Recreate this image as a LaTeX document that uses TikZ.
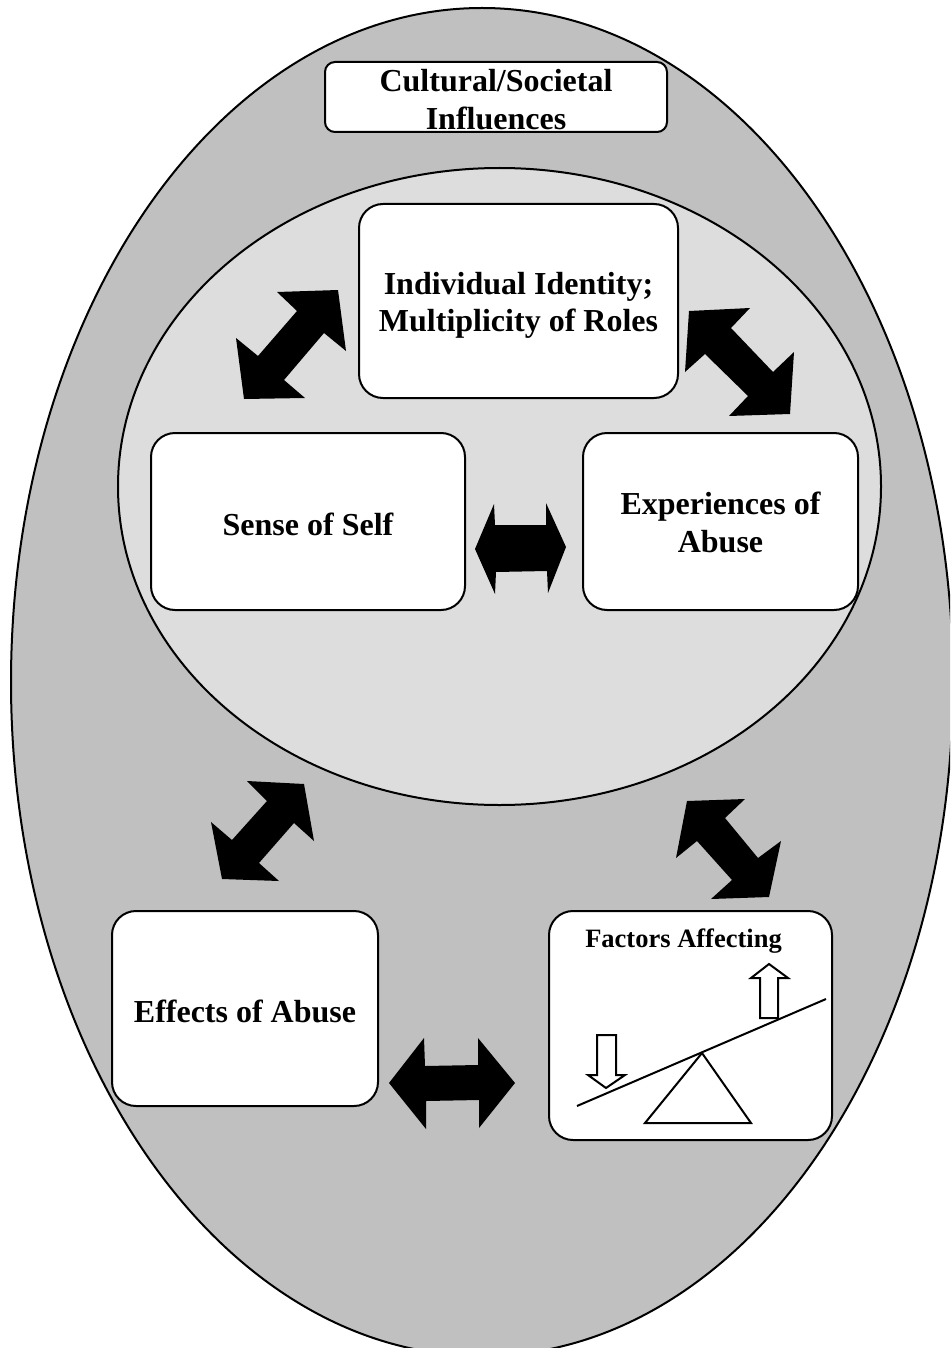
\documentclass[tikz,border=0pt]{standalone}
\usepackage{fontspec}
\setmainfont{Liberation Serif}
\usepackage{tikz}

\definecolor{outergray}{HTML}{C0C0C0}
\definecolor{innergray}{HTML}{DDDDDD}

\newcommand{\boxlabel}[2]{\raisebox{#1}[0pt][0pt]{\begin{tabular}{@{}c@{}}#2\end{tabular}}}

\tikzset{
  boxnode/.style={draw=black, fill=white, line width=2pt, rounded corners=24pt, inner sep=0pt, font=\bfseries\fontsize{32}{37.5}\selectfont},
  blockarrow/.style={fill=black},
  hollowarrow/.style={draw=black, fill=white, line width=2pt},
}

\begin{document}
\begin{tikzpicture}[x=1pt, y=-1pt]
            \clip (0,0) rectangle (950,1348);
            \draw[fill=outergray, line width=2pt] (482,682) ellipse [x radius=471, y radius=674];
            \draw[fill=innergray, line width=2pt] (499.5,486.5) ellipse [x radius=381.5, y radius=318.5];
            % boxes
            \node[boxnode, rounded corners=10pt, minimum width=342pt, minimum height=70pt] (influences) at (496,97) {\boxlabel{-12pt}{Cultural/Societal\\Influences}};
            \node[boxnode, minimum width=319pt, minimum height=194pt] (identity) at (518.5,301) {\boxlabel{-10.5pt}{Individual Identity;\\Multiplicity of Roles}};
            \node[boxnode, minimum width=314pt, minimum height=177pt] (self) at (308,521.5) {\boxlabel{-12.5pt}{Sense of Self}};
            \node[boxnode, minimum width=275pt, minimum height=177pt] (experiences) at (720.5,521.5) {\boxlabel{-10.5pt}{Experiences of\\Abuse}};
            \node[boxnode, minimum width=266pt, minimum height=195pt] (effects) at (245,1008.5) {\boxlabel{-12.5pt}{Effects of Abuse}};
            \node[boxnode, minimum width=283pt, minimum height=229pt] (factors) at (690.5,1025.5) {};
            \node[font=\bfseries\fontsize{26.5}{30}\selectfont, inner sep=0pt] (factorstext) at (683.5,941) {Factors Affecting};
            % block arrows
            \fill[blockarrow] (277,292) -- (338,290) -- (346,351) -- (324,333) -- (284,380) -- (305,398) -- (244,399) -- (236,338) -- (258,356) -- (297,311) -- cycle;
            \fill[blockarrow] (689,311) -- (750,308) -- (731,328) -- (773,372) -- (794,352) -- (790,414) -- (729,416) -- (748,396) -- (705,354) -- (685,372) -- cycle;
            \fill[blockarrow] (475,549) -- (494,504) -- (495,525) -- (546,525) -- (546,503) -- (566,547) -- (548,593) -- (547,571) -- (496,572) -- (495,594) -- cycle;
            \fill[blockarrow] (247,781) -- (304,784) -- (314,841) -- (294,823) -- (259,863) -- (279,881) -- (222,879) -- (211,822) -- (232,840) -- (267,801) -- cycle;
            \fill[blockarrow] (687,801) -- (745,799) -- (725,818) -- (758,858) -- (781,841) -- (769,897) -- (711,899) -- (732,880) -- (697,841) -- (676,858) -- cycle;
            \fill[blockarrow] (389,1083) -- (424,1038) -- (425,1066) -- (478,1065) -- (478,1038) -- (515,1083) -- (479,1128) -- (479,1100) -- (426,1101) -- (426,1129) -- cycle;
            % seesaw
            \draw[hollowarrow] (606,1088) -- (625,1075) -- (616,1075) -- (616,1035) -- (597,1035) -- (597,1075) -- (588,1075) -- cycle;
            \draw[hollowarrow] (769,964) -- (788,978) -- (778,978) -- (778,1018) -- (760,1018) -- (760,978) -- (751,978) -- cycle;
            \draw[hollowarrow] (702,1053) -- (751,1123) -- (645,1123) -- cycle;
            \coordinate (beamleft) at (577,1106);
            \coordinate (beamright) at (826,999);
            \draw[line width=2pt] (beamleft) -- (beamright);
\end{tikzpicture}
\end{document}
